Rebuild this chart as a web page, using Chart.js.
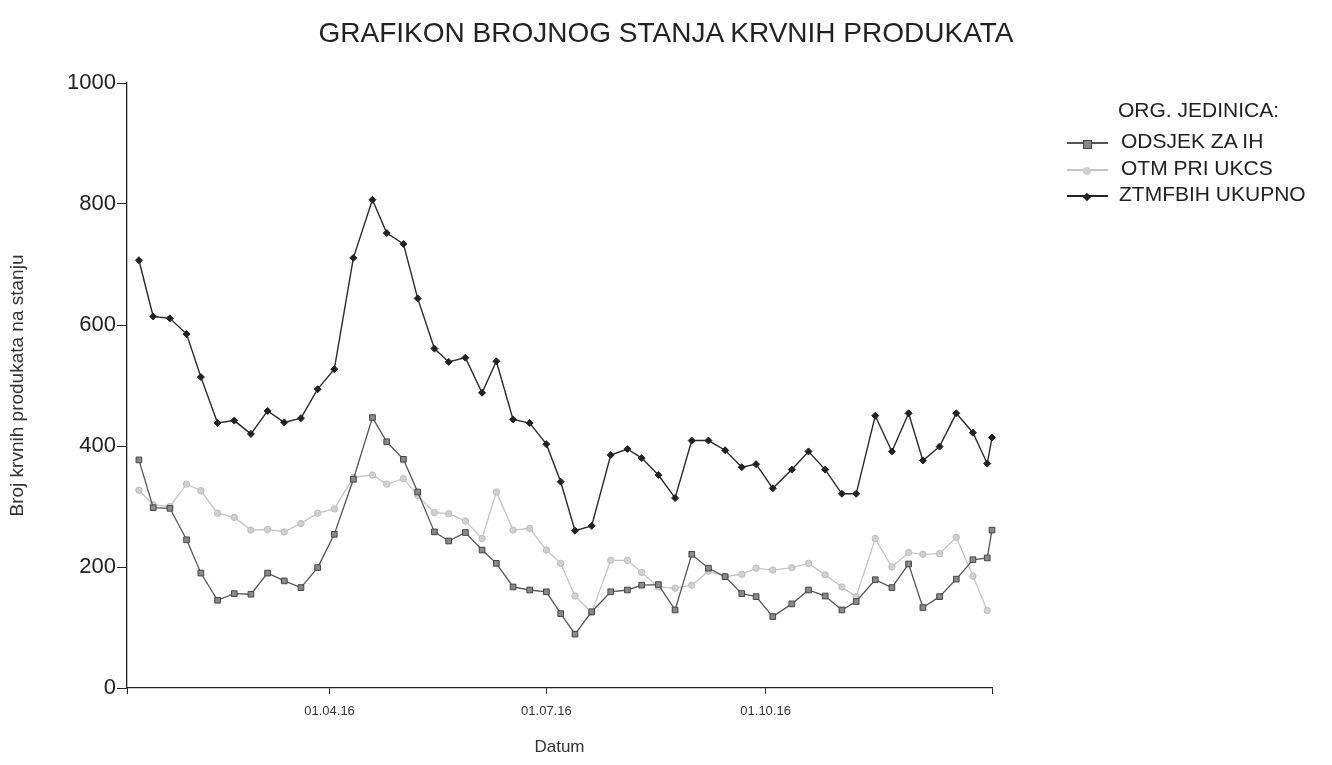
<!DOCTYPE html>
<html>
<head>
<meta charset="utf-8">
<script src="https://cdn.jsdelivr.net/npm/chart.js@4"></script>
<style>
html,body{margin:0;padding:0;background:#fff;}
#wrap{position:relative;width:1332px;height:765px;font-family:"Liberation Sans",Arial,sans-serif;color:#222;}
#naslov{position:absolute;left:0;width:1332px;top:17px;text-align:center;font-size:28px;}
.leg{position:absolute;font-size:21px;white-space:nowrap;}
.uzorak{position:absolute;width:41px;height:0;}
.uzorak span{position:absolute;left:16px;top:-4px;width:8px;height:8px;}
</style>
</head>
<body>
<div id="wrap">
  <canvas id="grafikon" width="1332" height="765"></canvas>
  <div id="naslov">GRAFIKON BROJNOG STANJA KRVNIH PRODUKATA</div>
  <div class="leg" style="left:1118px;top:98px;">ORG. JEDINICA:</div>
  <div class="uzorak" style="left:1067px;top:142px;border-top:2px solid #555;"><span style="background:#888;border:1px solid #444;width:7px;height:7px;"></span></div>
  <div class="leg" style="left:1121px;top:129px;">ODSJEK ZA IH</div>
  <div class="uzorak" style="left:1067px;top:169px;border-top:2px solid #c4c4c4;"><span style="background:#d0d0d0;border-radius:50%;"></span></div>
  <div class="leg" style="left:1121px;top:156px;">OTM PRI UKCS</div>
  <div class="uzorak" style="left:1067px;top:195px;border-top:2px solid #222;"><span style="background:#222;transform:rotate(45deg);width:6px;height:6px;left:17px;top:-3px;"></span></div>
  <div class="leg" style="left:1119px;top:182px;">ZTMFBIH UKUPNO</div>
</div>
<script>
// dan u 2016. godini (0 = 01.01.16), ocitano sa slike
let dani = [11,17,24,31,37,44,51,58,65,72,79,86,93,101,109,115,122,128,135,141,148,155,161,168,175,182,188,194,201,209,216,222,229,236,243,250,257,264,270,277,285,292,299,306,312,320,327,334,340,347,354,361,367,369];

let odsjekZaIh = [377,298,297,245,190,145,156,155,190,177,166,199,254,345,447,407,378,324,258,243,257,228,206,167,162,159,123,89,126,159,162,170,171,129,221,198,184,156,151,118,139,162,152,129,143,179,166,205,133,151,180,212,215,261];

let otmPriUkcs = [327,303,300,337,326,289,282,261,262,258,272,289,296,348,352,337,346,318,290,288,276,247,324,261,264,228,206,152,125,211,211,191,167,165,170,193,184,188,198,195,199,206,187,167,151,247,200,224,221,222,249,185,128,null];

let ztmfbihUkupno = [707,614,611,585,514,438,442,420,458,439,446,494,527,711,807,752,734,644,561,539,546,488,540,444,438,403,341,260,268,385,395,380,352,314,409,409,393,365,370,330,361,391,361,321,321,450,391,454,376,399,454,422,371,414];

let yOznake = [0,200,400,600,800,1000];
let xOznakeDani = [6,91,182,274,369];
let xOznake = ['','01.04.16','01.07.16','01.10.16',''];

function tocke(vrijednosti){
  return dani.map((d,i)=>({x:d,y:vrijednosti[i]}));
}

let ctx = document.getElementById("grafikon").getContext("2d");
let font = '"Liberation Sans", Arial, sans-serif';

new Chart(ctx,{
  type:'line',
  data:{
    datasets:[
      {
        label:"ODSJEK ZA IH",
        data:tocke(odsjekZaIh),
        clip:false,
        borderColor:'#555',
        borderWidth:1.3,
        pointStyle:'rect',
        pointRadius:4,
        pointBackgroundColor:'#8a8a8a',
        pointBorderColor:'#444',
        pointBorderWidth:1
      },
      {
        label:"OTM PRI UKCS",
        data:tocke(otmPriUkcs),
        clip:false,
        borderColor:'#c4c4c4',
        borderWidth:1.3,
        pointStyle:'circle',
        pointRadius:3.2,
        pointBackgroundColor:'#d0d0d0',
        pointBorderColor:'#bdbdbd',
        pointBorderWidth:1
      },
      {
        label:"ZTMFBIH UKUPNO",
        data:tocke(ztmfbihUkupno),
        clip:false,
        borderColor:'#2a2a2a',
        borderWidth:1.4,
        pointStyle:'rectRot',
        pointRadius:3.5,
        pointBackgroundColor:'#222',
        pointBorderColor:'#222',
        pointBorderWidth:1
      }
    ]
  },
  options:{
    responsive:false,
    animation:false,
    events:[],
    layout:{padding:{top:83,right:340,bottom:0,left:0}},
    plugins:{legend:{display:false},tooltip:{enabled:false},title:{display:false}},
    elements:{line:{tension:0}},
    scales:{
      x:{
        type:'linear',
        min:6,
        max:369,
        afterBuildTicks:function(scale){
          scale.ticks = xOznakeDani.map(v=>({value:v}));
        },
        afterFit:function(scale){ scale.height = 77; },
        grid:{display:true,drawOnChartArea:false,drawTicks:true,tickLength:6,color:'#222'},
        border:{color:'#222',width:1.3},
        ticks:{
          autoSkip:false,
          maxRotation:0,
          padding:10,
          color:'#333',
          font:{family:font,size:13},
          callback:function(v){
            let i = xOznakeDani.indexOf(v);
            return i>=0 ? xOznake[i] : '';
          }
        },
        title:{display:true,text:'Datum',color:'#333',font:{family:font,size:17},padding:{top:0,bottom:7}}
      },
      y:{
        min:0,
        max:1000,
        afterBuildTicks:function(scale){
          scale.ticks = yOznake.map(v=>({value:v}));
        },
        afterFit:function(scale){ scale.width = 127; },
        grid:{display:true,drawOnChartArea:false,drawTicks:true,tickLength:10,color:'#222'},
        border:{color:'#222',width:1.3},
        ticks:{
          padding:1,
          color:'#222',
          font:{family:font,size:22},
          callback:function(v){ return String(v); }
        },
        title:{display:true,text:'Broj krvnih produkata na stanju',color:'#333',font:{family:font,size:19},padding:{top:6,bottom:0}}
      }
    }
  }
});
</script>
</body>
</html>
